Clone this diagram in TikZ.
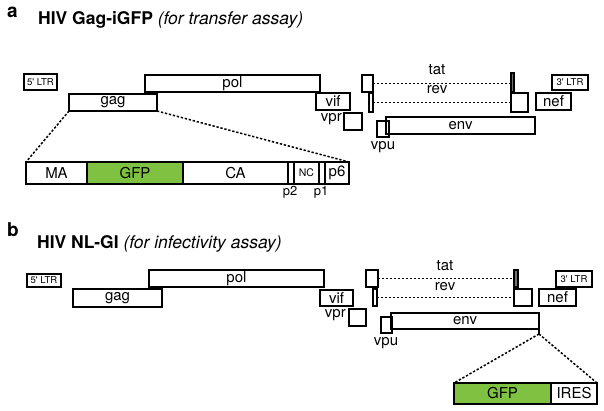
\documentclass[tikz,border=0pt]{standalone}
\usepackage{fontspec}
\setmainfont{TeX Gyre Heros}
\definecolor{gfpgreen}{HTML}{7FC241}
\newcommand\gbox[7][]{\node[gbx,#1,minimum width={(#5-#3)*1pt},minimum height={(#6-#4)*1pt},anchor=north west] (#2) at (#3,#4) {#7};}
\begin{document}
\begin{tikzpicture}[x=1pt,y=-1pt,
  gbx/.style={draw=black,line width=1.3pt,inner sep=0pt,outer sep=0pt,fill=white,font=\fontsize{15}{16}\selectfont},
  nofill/.style={fill=none},
  small/.style={font=\fontsize{9.5}{10}\selectfont},
  thinbar/.style={fill=black!55},
  lbl/.style={inner sep=0pt,font=\fontsize{15}{16}\selectfont},
  zoomline/.style={line width=1.5pt,dash pattern=on 2.3pt off 1.8pt},
  spliceline/.style={line width=1.2pt,dash pattern=on 2.2pt off 1.8pt},
  ttl/.style={inner sep=0pt,anchor=base west,font=\fontsize{17.5}{19}\selectfont},
  panel/.style={inner sep=0pt,anchor=base west,font=\fontsize{19}{20}\selectfont\bfseries}]
\useasboundingbox[fill=white] (0,0) rectangle (604,411);

% ---------- panel a ----------
\node[panel] (pa) at (7,18) {a};
\node[ttl] (ta) at (38,25) {\textbf{HIV Gag-iGFP} \textit{(for transfer assay)}};

\gbox[small]{altr5}{24}{74}{57}{90}{5\textquotesingle\ LTR}
\gbox{apol}{145}{75}{320}{92}{pol}
\gbox{agag}{69}{94}{157}{111}{gag}
\gbox{avif}{316}{93}{350}{110}{vif}
\gbox{avpr}{344}{113}{362}{130}{}
\node[lbl,anchor=east] (avprl) at (342,119) {vpr};
\gbox{atatL}{362}{75}{373}{92}{}
\gbox[thinbar]{atatR}{511}{73}{514}{92}{}
\gbox{arevL}{369}{93}{373}{112}{}
\gbox{arevR}{511}{93}{528}{112}{}
\gbox[small]{altr3}{552}{75}{588}{90}{3\textquotesingle\ LTR}
\gbox{anef}{536}{93}{571}{110}{nef}
\gbox[nofill]{aenv}{386}{117}{535}{134}{env}
\gbox[nofill]{avpu}{377}{121}{389}{137}{}
\node[lbl] (avpul) at (383,147) {vpu};
\node[lbl] (atatl) at (437,70) {tat};
\node[lbl] (arevl) at (437,90) {rev};
\draw[spliceline] (atatL.east) -- (atatL.east -| atatR.west);
\draw[spliceline] (arevL.east) -- (arevR.west);

% Gag expansion
\gbox{ma}{26}{162}{87}{184}{MA}
\gbox[fill=gfpgreen]{agfp}{87}{162}{183}{184}{GFP}
\gbox{ca}{183}{162}{288}{184}{CA}
\gbox{ptwo}{288}{162}{294}{184}{}
\gbox[font=\fontsize{10.5}{11}\selectfont]{nc}{294}{162}{319}{184}{NC}
\gbox{pone}{319}{162}{325}{184}{}
\gbox{psix}{325}{162}{349}{184}{p6}
\node[lbl,font=\fontsize{13}{14}\selectfont] (ptwol) at (290,192) {p2};
\node[lbl,font=\fontsize{13}{14}\selectfont] (ponel) at (321,192) {p1};
\draw[zoomline] (agag.south west) -- (ma.north west);
\draw[zoomline] (agag.south east) -- (psix.north east);

% ---------- panel b ----------
\node[panel] (pb) at (7,237) {b};
\node[ttl] (tb) at (37,249) {\textbf{HIV NL-GI} \textit{(for infectivity assay)}};

\gbox[small]{bltr5}{27}{274}{61}{287}{5\textquotesingle\ LTR}
\gbox{bpol}{149}{270}{324}{287}{pol}
\gbox{bgag}{73}{289}{162}{307}{gag}
\gbox{bvif}{320}{290}{353}{306}{vif}
\gbox{bvpr}{349}{309}{366}{326}{}
\node[lbl,anchor=east] (bvprl) at (346,315) {vpr};
\gbox{btatL}{366}{270}{378}{287}{}
\gbox[thinbar]{btatR}{514}{270}{518}{287}{}
\gbox{brevL}{373}{289}{377}{306}{}
\gbox{brevR}{514}{289}{532}{306}{}
\gbox[small]{bltr3}{556}{271}{592}{287}{3\textquotesingle\ LTR}
\gbox{bnef}{539}{289}{576}{306}{nef}
\gbox[nofill]{benv}{391}{313}{539}{329}{env}
\gbox[nofill]{bvpu}{381}{317}{392}{333}{}
\node[lbl] (bvpul) at (386,343) {vpu};
\node[lbl] (btatl) at (445,266) {tat};
\node[lbl] (brevl) at (445,287) {rev};
\draw[spliceline] (btatL.east) -- (btatL.east -| btatR.west);
\draw[spliceline] (brevL.east) -- (brevR.west);

% GFP-IRES expansion
\gbox[fill=gfpgreen]{bgfp}{454}{383}{551}{404}{GFP}
\gbox{ires}{551}{383}{597}{404}{IRES}
\coordinate (envtip) at (539,334);
\draw[line width=1.3pt] (benv.south east) -- (envtip);
\draw[zoomline] (envtip) -- (bgfp.north west);
\draw[zoomline] (envtip) -- (ires.north east);
\end{tikzpicture}
\end{document}
